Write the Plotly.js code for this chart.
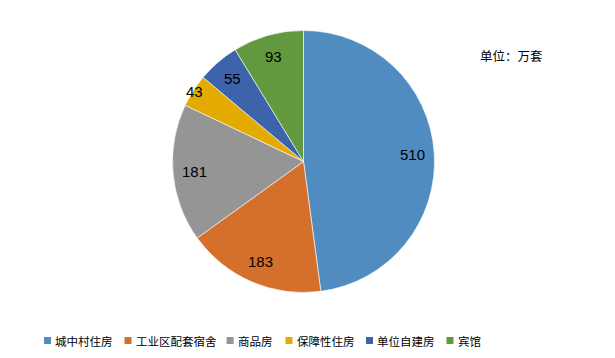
<!DOCTYPE html>
<html>
<head>
<meta charset="utf-8">
<script src="https://cdn.plot.ly/plotly-3.0.1.min.js"></script>
<style>html,body{margin:0;padding:0;background:#fff;}#chart{width:615px;height:358px;}</style>
</head>
<body>
<div id="chart"></div>
<script>
var categories = ["城中村住房", "工业区配套宿舍", "商品房", "保障性住房", "单位自建房", "宾馆"];
var values = [510, 183, 181, 43, 55, 93];
var colors = ["#508cc0", "#d4702b", "#959595", "#e3aa00", "#3d63ab", "#62993e"];
var unitText = "单位：万套";

var W = 615, H = 358;
var cx = 303.5, cy = 161.5, R = 131;
var domX = [(cx - R) / W, (cx + R) / W];
var domY = [1 - (cy + R) / H, 1 - (cy - R) / H];

var total = values.reduce(function (a, b) { return a + b; }, 0);
var annotations = [];
var shapes = [];
var cum = 0;
for (var i = 0; i < values.length; i++) {
  var frac = values[i] / total;
  var mid = (cum + frac / 2) * 2 * Math.PI;
  cum += frac;
  var d = frac < 0.05 ? 0.99 * R : 0.835 * R;
  var px = cx + d * Math.sin(mid);
  var py = cy - d * Math.cos(mid);
  annotations.push({
    x: px / W, y: 1 - py / H, xref: "paper", yref: "paper",
    text: String(values[i]), showarrow: false,
    xanchor: "center", yanchor: "middle",
    font: {family: "Liberation Sans, Arial, sans-serif", size: 15, color: "#000"}
  });
}
annotations.push({
  x: 478 / W, y: 1 - 55 / H, xref: "paper", yref: "paper",
  text: unitText, showarrow: false, xanchor: "left", yanchor: "middle",
  font: {family: "Noto Sans CJK SC, sans-serif", size: 12.5, color: "#000"}
});

// custom legend row
var lx = 44, ly = 340.5, sq = 7, charW = 10.8, legGap = 16.5;
for (var j = 0; j < categories.length; j++) {
  shapes.push({
    type: "rect", xref: "paper", yref: "paper",
    x0: lx / W, x1: (lx + sq) / W, y0: 1 - (ly + sq / 2) / H, y1: 1 - (ly - sq / 2) / H,
    fillcolor: colors[j], line: {width: 0}
  });
  var tx = lx + 10;
  annotations.push({
    x: tx / W, y: 1 - (ly + 0.5) / H, xref: "paper", yref: "paper",
    text: categories[j], showarrow: false, xanchor: "left", yanchor: "middle",
    xshift: -1,
    font: {family: "Noto Sans CJK SC, sans-serif", size: 11.5, color: "#000"}
  });
  lx = tx + categories[j].length * charW + legGap;
}

var trace = {
  type: "pie",
  labels: categories,
  values: values,
  sort: false,
  direction: "clockwise",
  rotation: 0,
  textinfo: "none",
  hoverinfo: "label+value",
  marker: {colors: colors, line: {color: "#ffffff", width: 0.6}},
  domain: {x: domX, y: domY}
};

var layout = {
  width: W, height: H,
  margin: {l: 0, r: 0, t: 0, b: 0},
  paper_bgcolor: "#fff",
  showlegend: false,
  shapes: shapes,
  annotations: annotations
};

Plotly.newPlot("chart", [trace], layout, {displayModeBar: false, staticPlot: true});
</script>
</body>
</html>
